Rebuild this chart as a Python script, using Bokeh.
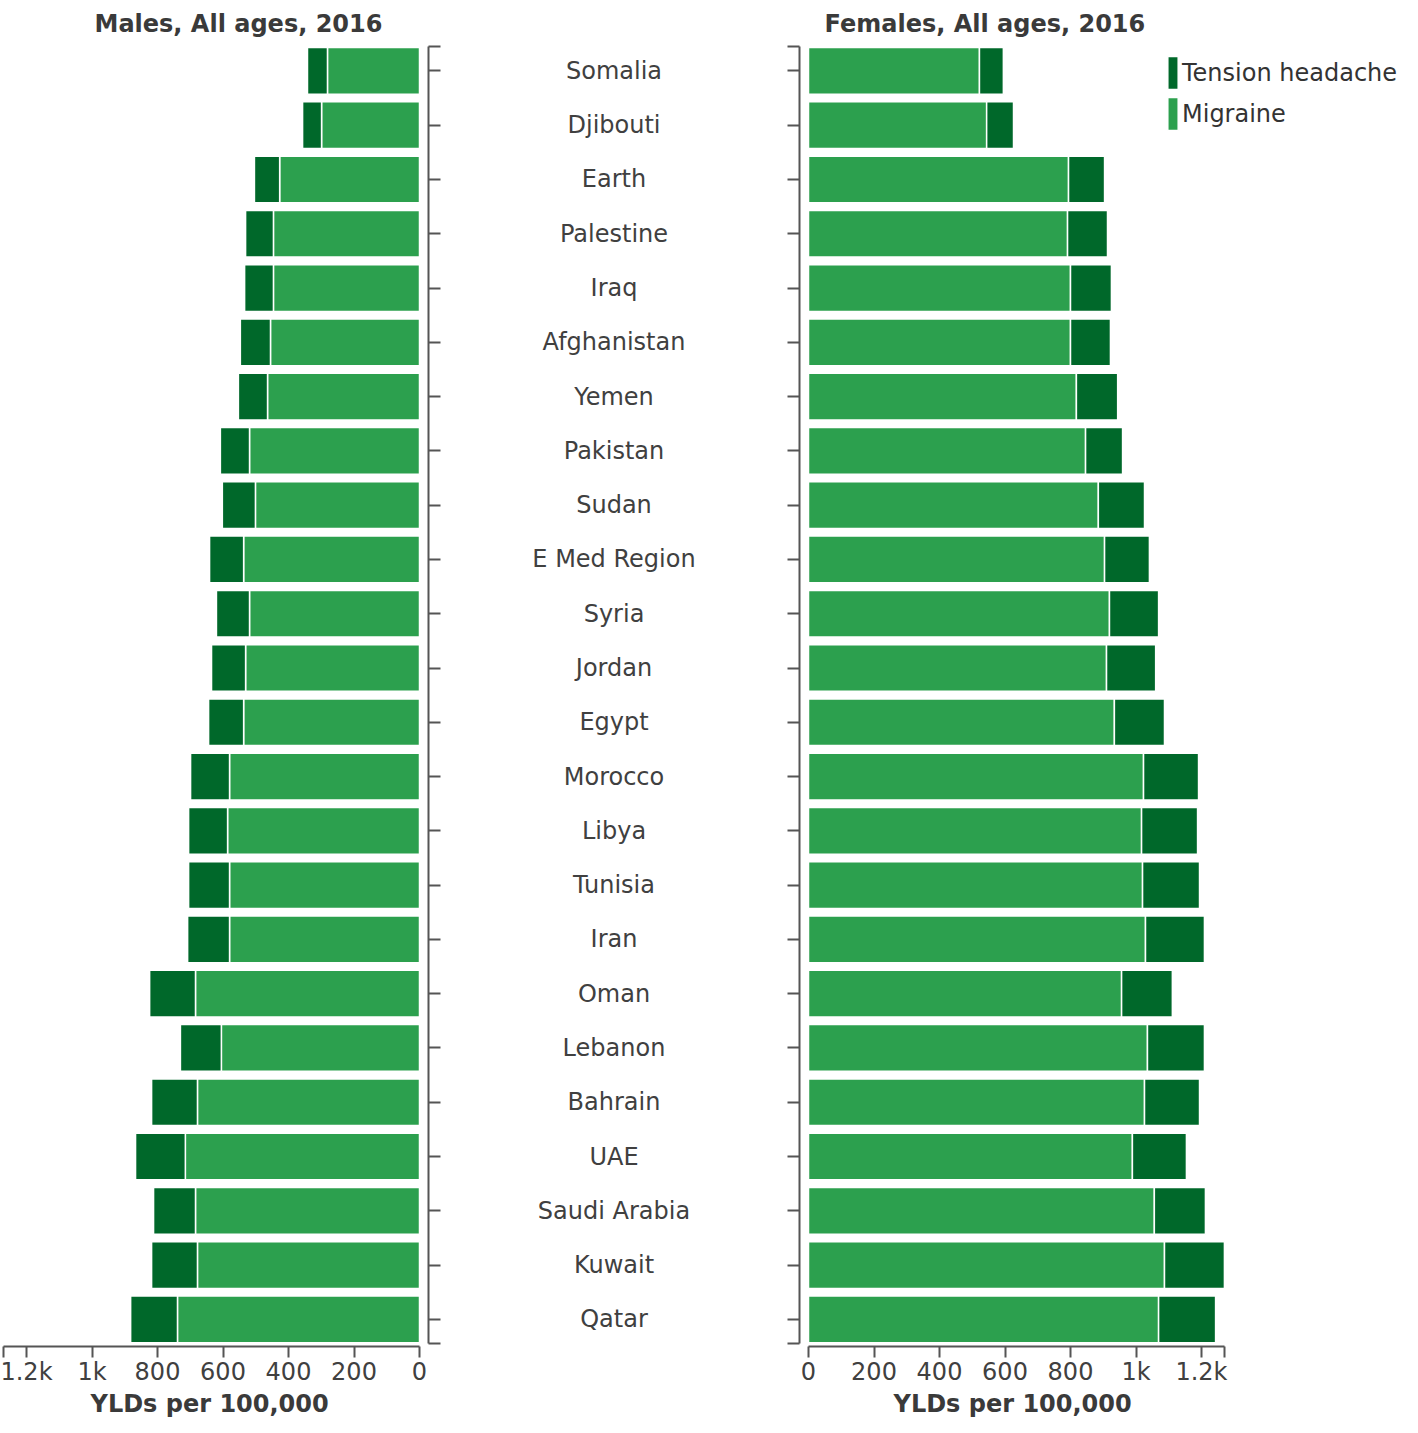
from bokeh.plotting import figure
from bokeh.models import Range1d, FixedTicker, Legend, LegendItem, ColumnDataSource, Title
from bokeh.layouts import row
from bokeh.embed import file_html
from bokeh.resources import INLINE
from bokeh.core.properties import value

# ---------------- data ----------------
countries = ["Somalia", "Djibouti", "Earth", "Palestine", "Iraq", "Afghanistan",
             "Yemen", "Pakistan", "Sudan", "E Med Region", "Syria", "Jordan",
             "Egypt", "Morocco", "Libya", "Tunisia", "Iran", "Oman", "Lebanon",
             "Bahrain", "UAE", "Saudi Arabia", "Kuwait", "Qatar"]

male_migraine = [281, 299, 427, 446, 446, 455, 464, 519, 501, 537, 519, 531,
                 537, 580, 586, 580, 580, 684, 605, 678, 715, 684, 678, 739]
male_tension = [61, 58, 77, 85, 88, 92, 89, 89, 101, 104, 101, 104,
                107, 119, 119, 125, 128, 140, 125, 140, 152, 128, 140, 143]

female_migraine = [522, 544, 794, 791, 800, 800, 818, 846, 885, 904, 919, 910,
                   934, 1023, 1017, 1020, 1029, 956, 1035, 1026, 989, 1056, 1087, 1069]
female_tension = [73, 82, 110, 122, 125, 122, 126, 113, 141, 137, 150, 150,
                  153, 168, 171, 174, 180, 155, 174, 168, 165, 156, 183, 174]

x_ticks = [0, 200, 400, 600, 800, 1000, 1200]
x_tick_labels = ["0", "200", "400", "600", "800", "1k", "1.2k"]

series_names = ["Tension headache", "Migraine"]
titles = ["Males, All ages, 2016", "Females, All ages, 2016"]
axis_title = "YLDs per 100,000"

# ---------------- style ----------------
MIG_COLOR = "#2ca04e"
TEN_COLOR = "#00682a"
AXIS_COLOR = "#555555"
TEXT_COLOR = "#404040"
FONT = "DejaVu Sans"
PX = 0.3275          # pixels per YLD unit
GAP = 9              # px between zero and the vertical axis
H = 1417
TOP, BOTTOM = 46, 0
Y_LO, Y_HI, Y_BOTTOM = -0.45, 23.45, 23.5

n = len(countries)
idx = list(range(n))
male_total = [m + t for m, t in zip(male_migraine, male_tension)]
female_total = [m + t for m, t in zip(female_migraine, female_tension)]
xmax = max(max(male_total), max(female_total))

src_m = ColumnDataSource(dict(y=idx, mig=male_migraine, tot=male_total))
src_f = ColumnDataSource(dict(y=idx, mig=female_migraine, tot=female_total))
src_c = ColumnDataSource(dict(y=idx, name=countries))

overrides = {t: l for t, l in zip(x_ticks, x_tick_labels)}
overrides[xmax] = ""
y_tick_list = [Y_LO] + idx + [Y_HI]


def style_x(p, label_offset):
    ax = p.xaxis[0]
    ax.ticker = FixedTicker(ticks=x_ticks + [xmax])
    ax.major_label_overrides = overrides
    ax.bounds = (0, xmax)
    ax.axis_line_color = AXIS_COLOR
    ax.axis_line_width = 2
    ax.major_tick_line_color = AXIS_COLOR
    ax.major_tick_line_width = 2
    ax.major_tick_out = 11
    ax.major_tick_in = 0
    ax.minor_tick_line_color = None
    ax.major_label_standoff = 0
    ax.major_label_text_font = FONT
    ax.major_label_text_font_size = "24px"
    ax.major_label_text_color = TEXT_COLOR
    t = Title(text=axis_title, align="left", offset=label_offset,
              vertical_align="bottom",
              text_font=FONT, text_font_style="bold", text_font_size="24px",
              text_color="#3a3a3a", standoff=-1)
    p.add_layout(t, "below")


def style_y(ax):
    ax.ticker = FixedTicker(ticks=y_tick_list)
    ax.major_label_overrides = {t: "" for t in y_tick_list}
    ax.major_label_text_color = None
    ax.bounds = (Y_LO, Y_HI)
    ax.axis_line_color = AXIS_COLOR
    ax.axis_line_width = 2
    ax.major_tick_line_color = AXIS_COLOR
    ax.major_tick_line_width = 2
    ax.major_tick_out = 12
    ax.major_tick_in = 0
    ax.minor_tick_line_color = None
    ax.major_label_standoff = 0


def style_title(p, text, offset):
    p.title.text = text
    p.title.align = "left"
    p.title.vertical_align = "top"
    p.title.offset = offset
    p.title.text_font = FONT
    p.title.text_font_style = "bold"
    p.title.text_font_size = "24px"
    p.title.text_color = "#3a3a3a"
    p.title.standoff = 13


# ---------------- left (males) ----------------
LW_FRAME = 428
pl = figure(width=LW_FRAME + 20, height=H,
            x_range=Range1d((LW_FRAME - GAP) / PX, -GAP / PX),
            y_range=Range1d(Y_BOTTOM, Y_LO),
            y_axis_location="right", output_backend="svg", toolbar_location=None,
            min_border_left=0, min_border_right=20,
            min_border_top=TOP, min_border_bottom=BOTTOM)
pl.hbar(y="y", left=0, right="mig", height=0.86, source=src_m,
        fill_color=MIG_COLOR, line_color="white", line_width=1.5)
pl.hbar(y="y", left="mig", right="tot", height=0.86, source=src_m,
        fill_color=TEN_COLOR, line_color="white", line_width=1.5)
style_x(pl, 90)
style_y(pl.yaxis[0])
style_title(pl, titles[0], 94)

# ---------------- middle (labels) ----------------
MW = 331
pm = figure(width=MW, height=H, x_range=Range1d(0, 1),
            y_range=Range1d(Y_BOTTOM, Y_LO),
            x_axis_location=None, y_axis_location=None,
            output_backend="svg", toolbar_location=None,
            min_border_left=0, min_border_right=0,
            min_border_top=TOP, min_border_bottom=BOTTOM)
pm.text(x=0.5, y="y", text="name", source=src_c, text_align="center",
        text_baseline="middle", text_font=value(FONT), text_font_size="24px",
        text_color=TEXT_COLOR)

# ---------------- right (females) ----------------
RW_FRAME = 603
pr = figure(width=20 + RW_FRAME, height=H,
            x_range=Range1d(-GAP / PX, (RW_FRAME - GAP) / PX),
            y_range=Range1d(Y_BOTTOM, Y_LO),
            output_backend="svg", toolbar_location=None,
            min_border_left=20, min_border_right=0,
            min_border_top=TOP, min_border_bottom=BOTTOM)
r_mig = pr.hbar(y="y", left=0, right="mig", height=0.86, source=src_f,
                fill_color=MIG_COLOR, line_color="white", line_width=1.5)
r_ten = pr.hbar(y="y", left="mig", right="tot", height=0.86, source=src_f,
                fill_color=TEN_COLOR, line_color="white", line_width=1.5)
style_x(pr, 94)
style_y(pr.yaxis[0])
style_title(pr, titles[1], 25)

legend = Legend(items=[LegendItem(label=series_names[0], renderers=[r_ten]),
                       LegendItem(label=series_names[1], renderers=[r_mig])],
                location=(367, 1212), orientation="vertical",
                glyph_width=13, glyph_height=41, label_standoff=3, spacing=0,
                padding=4, margin=0, border_line_color=None,
                background_fill_alpha=0, label_text_font=FONT,
                label_text_font_size="24px", label_text_color="#333333")
pr.add_layout(legend, "center")

for p in (pl, pm, pr):
    p.grid.visible = False
    p.outline_line_color = None
    p.background_fill_color = "white"
    p.border_fill_color = "white"

layout = row(pl, pm, pr)
open("out.html", "w").write(file_html(layout, INLINE))
